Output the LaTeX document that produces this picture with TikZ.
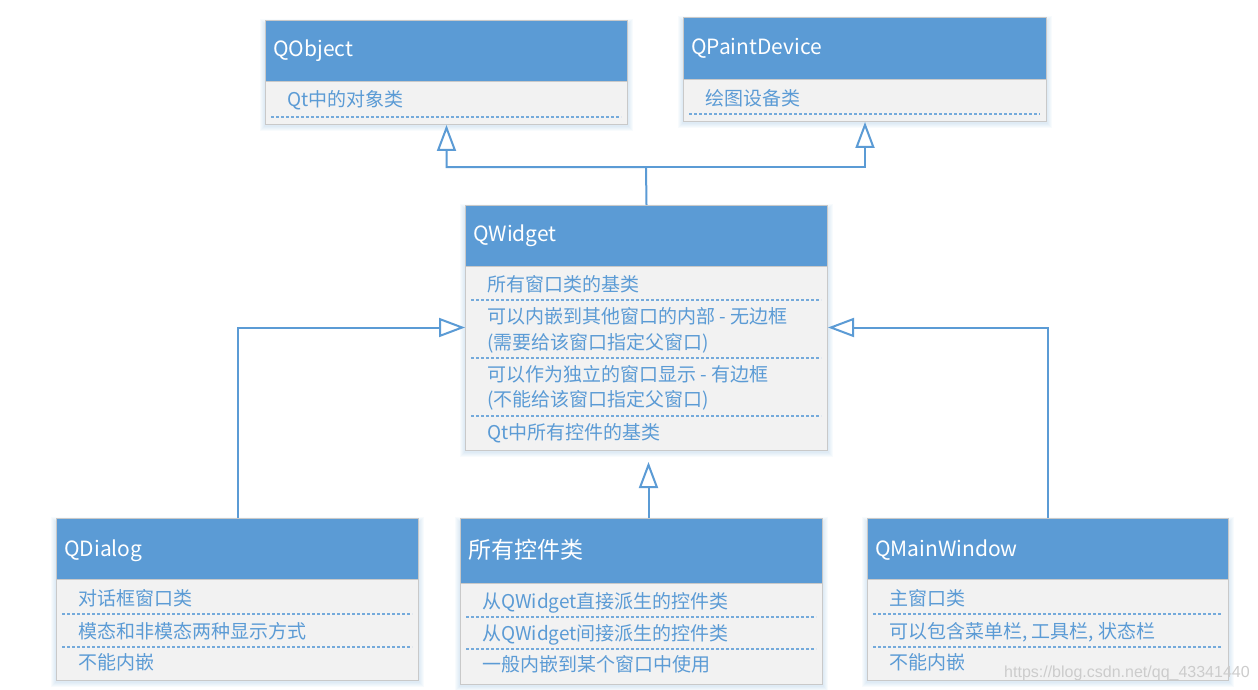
\documentclass[tikz,border=0pt]{standalone}
\usepackage{fontspec}
\setmainfont{Noto Sans CJK SC}
\newfontfamily\wmfont{Liberation Sans}
\usetikzlibrary{arrows.meta,backgrounds}
\definecolor{hblue}{HTML}{5B9BD5}
\definecolor{bodyfill}{HTML}{F2F2F2}
\definecolor{edgegray}{HTML}{C9C9C9}
\newcommand\myTitleFont{\fontsize{21}{25}\selectfont}
\newcommand\myCjkTitleFont{\fontsize{23}{27}\selectfont}
\newcommand\myBodyFont{\fontsize{19}{23}\selectfont}
\begin{document}
\begin{tikzpicture}[x=1pt, y=-1pt,
  hdr/.style={draw=edgegray, line width=1pt, fill=hblue, inner sep=0pt, anchor=north west},
  bdy/.style={draw=edgegray, line width=1pt, fill=bodyfill, inner sep=0pt, anchor=north west},
  ttl/.style={anchor=base west, inner sep=0pt, text=white, font=\myTitleFont},
  itm/.style={anchor=base west, inner sep=0pt, text=hblue, font=\myBodyFont},
  sep/.style={draw=hblue!85, line width=1.3pt, dash pattern=on 3pt off 2pt},
  inh/.style={draw=hblue, line width=2pt, -{Triangle[length=26pt,width=19pt,fill=white]}}
]
\useasboundingbox (0,0) rectangle (1258,690);

% QObject
\node[hdr, minimum width=362pt, minimum height=61pt] (qobjH) at (265,20) {};
\node[bdy, minimum width=362pt, minimum height=43pt] (qobjB) at (265,81) {};
\node[ttl] (qobjT) at (273,56.4) {QObject};
\node[itm] (qobj1) at (287,106.2) {Qt中的对象类};
\draw[sep] (271,117) -- (621,117);

% QPaintDevice
\node[hdr, minimum width=363pt, minimum height=62pt] (qpdH) at (683,17) {};
\node[bdy, minimum width=363pt, minimum height=42pt] (qpdB) at (683,79) {};
\node[ttl] (qpdT) at (691,54.9) {QPaintDevice};
\node[itm] (qpd1) at (705,105.2) {绘图设备类};
\draw[sep] (689,114) -- (1040,114);

% QWidget
\node[hdr, minimum width=362pt, minimum height=61pt] (qwH) at (465,205) {};
\node[bdy, minimum width=362pt, minimum height=184pt] (qwB) at (465,266) {};
\node[ttl] (qwT) at (473,241.4) {QWidget};
\node[itm] (qw1) at (487,291.2) {所有窗口类的基类};
\draw[sep] (471,300) -- (821,300);
\node[itm] (qw2) at (487,323.2) {可以内嵌到其他窗口的内部 - 无边框};
\node[itm] (qw3) at (487,349.2) {(需要给该窗口指定父窗口)};
\draw[sep] (471,358) -- (821,358);
\node[itm] (qw4) at (487,381.2) {可以作为独立的窗口显示 - 有边框};
\node[itm] (qw5) at (487,406.2) {(不能给该窗口指定父窗口)};
\draw[sep] (471,416) -- (821,416);
\node[itm] (qw6) at (487,439.2) {Qt中所有控件的基类};

% QDialog
\node[hdr, minimum width=362pt, minimum height=61pt] (qdH) at (56,518) {};
\node[bdy, minimum width=362pt, minimum height=101pt] (qdB) at (56,579) {};
\node[ttl] (qdT) at (64,556.4) {QDialog};
\node[itm] (qd1) at (78,605.2) {对话框窗口类};
\draw[sep] (62,614) -- (412,614);
\node[itm] (qd2) at (78,638.2) {模态和非模态两种显示方式};
\draw[sep] (62,647) -- (412,647);
\node[itm] (qd3) at (78,669.2) {不能内嵌};

% All controls
\node[hdr, minimum width=362pt, minimum height=65pt] (ctlH) at (460,518) {};
\node[bdy, minimum width=362pt, minimum height=101pt] (ctlB) at (460,583) {};
\node[ttl, font=\myCjkTitleFont] (ctlT) at (468,558.7) {所有控件类};
\node[itm] (ctl1) at (482,608.2) {从QWidget直接派生的控件类};
\draw[sep] (466,617) -- (816,617);
\node[itm] (ctl2) at (482,640.2) {从QWidget间接派生的控件类};
\draw[sep] (466,649) -- (816,649);
\node[itm] (ctl3) at (482,671.2) {一般内嵌到某个窗口中使用};

% QMainWindow
\node[hdr, minimum width=361pt, minimum height=61pt] (qmwH) at (867,518) {};
\node[bdy, minimum width=361pt, minimum height=101pt] (qmwB) at (867,579) {};
\node[ttl] (qmwT) at (875,556.4) {QMainWindow};
\node[itm] (qmw1) at (889,605.2) {主窗口类};
\draw[sep] (873,614) -- (1222,614);
\node[itm] (qmw2) at (889,638.2) {可以包含菜单栏, 工具栏, 状态栏};
\draw[sep] (873,647) -- (1222,647);
\node[itm] (qmw3) at (889,669.2) {不能内嵌};

% connectors
\coordinate (jtop) at (646,167);
\draw[inh] (qwH.north) -- (jtop) -| (qobjB.south);
\draw[inh] (jtop) -| (qpdB.south);
\draw[inh] (qdH.north) |- ([yshift=31pt]qwB.west);
\draw[inh] (qmwH.north) |- ([yshift=31pt]qwB.east);
\draw[inh, shorten >=11pt] ([xshift=7pt]ctlH.north) -- ([xshift=7pt]ctlH.north |- qwB.south);

% watermark
\node[anchor=base west, inner sep=0pt, font=\wmfont\fontsize{16}{18}\selectfont, text=black!20] (wm) at (1004,677) {https://blog.csdn.net/qq\_43341440};

\begin{scope}[on background layer]
\fill[white] (0,0) rectangle (1258,690);
\foreach \hh/\bb in {qobjH/qobjB, qpdH/qpdB, qwH/qwB, qdH/qdB, ctlH/ctlB, qmwH/qmwB}{
  \foreach \k in {1,...,5}{
    \fill[hblue, opacity=0.04] ([xshift={-\k*1pt}, yshift={-(\k+1)*1pt}]\bb.south west) rectangle ([xshift={\k*1pt}, yshift={(\k-4)*1pt}]\hh.north east);
  }
}
\end{scope}
\end{tikzpicture}
\end{document}
